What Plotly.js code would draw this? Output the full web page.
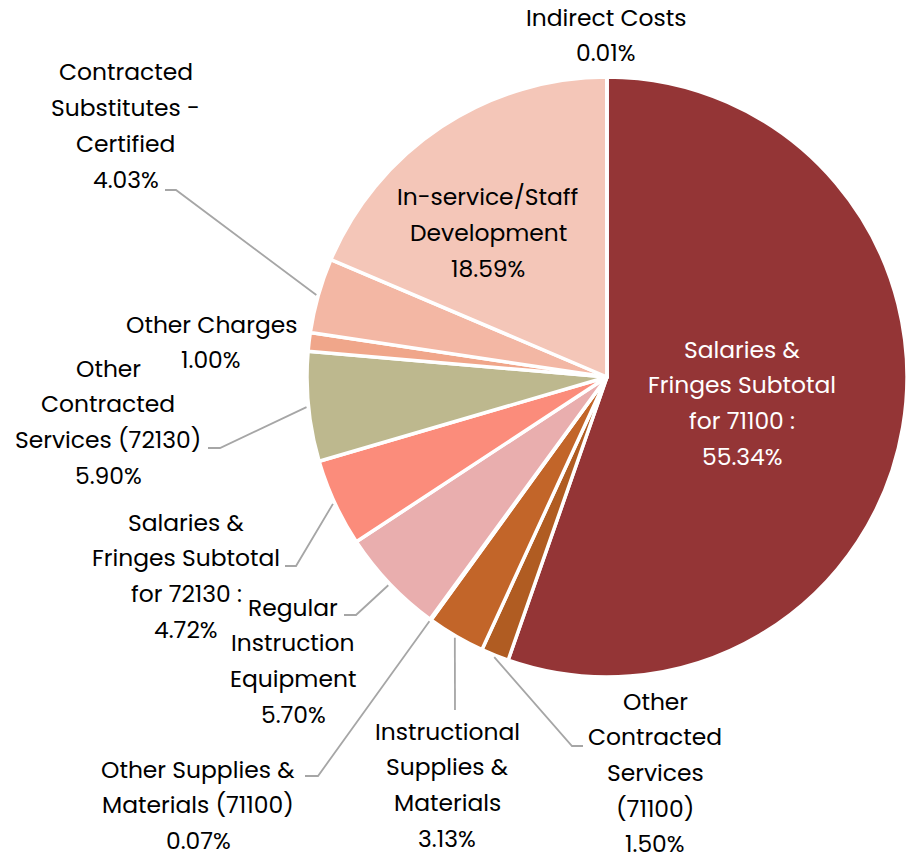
<!DOCTYPE html>
<html>
<head>
<meta charset="utf-8">
<script src="https://cdn.plot.ly/plotly-3.0.1.min.js"></script>
<style>html,body{margin:0;padding:0;background:#fff;}#chart{width:916px;height:857px;}</style>
</head>
<body>
<div id="chart"></div>
<script>
// ---- data ----
const categories = [
  "Salaries & Fringes Subtotal for 71100 :",
  "Other Contracted Services (71100)",
  "Instructional Supplies & Materials",
  "Other Supplies & Materials (71100)",
  "Regular Instruction Equipment",
  "Salaries & Fringes Subtotal for 72130 :",
  "Other Contracted Services (72130)",
  "Other Charges",
  "Contracted Substitutes - Certified",
  "In-service/Staff Development",
  "Indirect Costs"
];
const percents = [55.34, 1.50, 3.13, 0.07, 5.70, 4.72, 5.90, 1.00, 4.03, 18.59, 0.01];
// label text as displayed (line-broken)
const labelLines = [
  ["Salaries &", "Fringes Subtotal", "for 71100 :"],
  ["Other", "Contracted", "Services", "(71100)"],
  ["Instructional", "Supplies &", "Materials"],
  ["Other Supplies &", "Materials (71100)"],
  ["Regular", "Instruction", "Equipment"],
  ["Salaries &", "Fringes Subtotal", "for 72130 :"],
  ["Other", "Contracted", "Services (72130)"],
  ["Other Charges"],
  ["Contracted", "Substitutes -", "Certified"],
  ["In-service/Staff", "Development"],
  ["Indirect Costs"]
];
const colors = ["#943536", "#b05c22", "#c26529", "#d98a5a", "#e9aeae", "#fb8c7b",
                "#bdb88e", "#f0a68a", "#f3b7a4", "#f4c6b8", "#e8d8d0"];

// ---- layout (pixel positions of labels) ----
const W = 916, H = 857;
const CX = 607, CY = 377, R = 300;
// [centerX, firstLineY, textColor, elbow [x,y] or null, endX]
const labelPos = [
  [742, 349, "#ffffff", null, null],
  [655, 701, "#000000", [572, 746], 583],
  [447, 731, "#000000", [455, 710], null],
  [198, 769, "#000000", [318, 776], 305],
  [293, 607, "#000000", [356, 615], 344],
  [186, 522, "#000000", [296, 566], 285],
  [108, 368, "#000000", [220, 448], 208],
  [211, 324, "#000000", null, null],
  [126, 72,  "#000000", [176, 190], 165],
  [488, 197, "#000000", null, null],
  [606, 17,  "#000000", null, null]
];
const LINE_H = 35.7;
const FONT = "Poppins, Inter, 'Open Sans', sans-serif";
const FS = 23.4;

const px = x => x / W;
const py = y => 1 - y / H;

const annotations = [];
const shapes = [];
let cum = 0;
percents.forEach((p, i) => {
  const mid = (cum + p / 2) / 100 * 2 * Math.PI;
  cum += p;
  const [cx, y0, col, elbow, endX] = labelPos[i];
  const lines = labelLines[i].concat([p.toFixed(2) + "%"]);
  lines.forEach((t, k) => {
    annotations.push({
      x: px(cx), y: py(y0 + k * LINE_H), xref: "paper", yref: "paper",
      text: t, showarrow: false, xanchor: "center", yanchor: "middle",
      font: {family: FONT, size: FS, color: col}
    });
  });
  if (elbow) {
    const sx = CX + (R + 2) * Math.sin(mid);
    const sy = CY - (R + 2) * Math.cos(mid);
    let path = `M ${px(sx)} ${py(sy)} L ${px(elbow[0])} ${py(elbow[1])}`;
    if (endX !== null) path += ` L ${px(endX)} ${py(elbow[1])}`;
    shapes.push({type: "path", xref: "paper", yref: "paper", path: path,
                 line: {color: "#a6a6a6", width: 1.8}});
  }
});

const trace = {
  type: "pie",
  labels: categories,
  values: percents,
  sort: false,
  direction: "clockwise",
  rotation: 0,
  textinfo: "none",
  hoverinfo: "label+percent",
  marker: {colors: colors, line: {color: "#ffffff", width: 3.5}},
  domain: {x: [px(CX - R), px(CX + R)], y: [py(CY + R), py(CY - R)]},
  showlegend: false
};

const layout = {
  width: W, height: H,
  margin: {l: 0, r: 0, t: 0, b: 0},
  paper_bgcolor: "#ffffff",
  showlegend: false,
  annotations: annotations,
  shapes: shapes,
  font: {family: FONT}
};

Plotly.newPlot("chart", [trace], layout, {displayModeBar: false, staticPlot: true});
</script>
</body>
</html>
